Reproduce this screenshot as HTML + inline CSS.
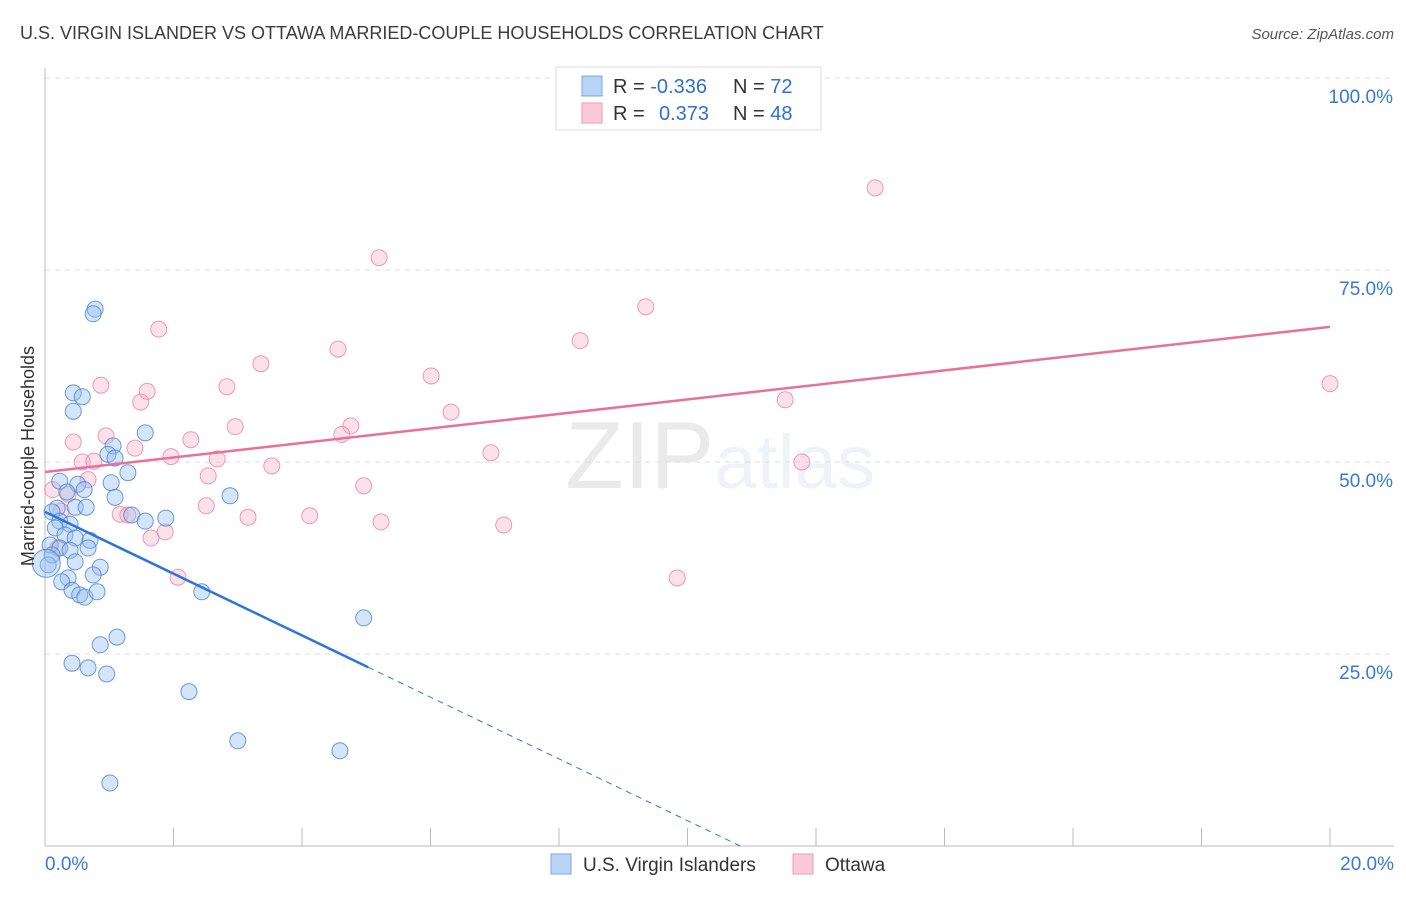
<!DOCTYPE html>
<html><head><meta charset="utf-8"><style>
body{margin:0;background:#fff;font-family:"Liberation Sans",sans-serif;}
svg text{font-family:"Liberation Sans",sans-serif;}
</style></head><body>
<svg id="chart" width="1406" height="892" xmlns="http://www.w3.org/2000/svg">
<text x="20" y="39" font-size="18" fill="#3c3c3c">U.S. VIRGIN ISLANDER VS OTTAWA MARRIED-COUPLE HOUSEHOLDS CORRELATION CHART</text>
<text x="1394" y="39" font-size="15" font-style="italic" fill="#555" text-anchor="end">Source: ZipAtlas.com</text>
<text x="720" y="488" font-size="96" text-anchor="middle" fill="#000" opacity="0.08" font-family="Liberation Serif,serif">ZIP<tspan fill="#3a78d8" opacity="1" font-family="Liberation Sans,sans-serif" font-size="76">atlas</tspan></text>
<g id="grid"></g>
<g id="axes"></g>
<g id="marks"></g>
<text transform="translate(34,456) rotate(-90)" font-size="18" fill="#333" text-anchor="middle">Married-couple Households</text>
<g>
<rect x="556" y="67" width="265" height="63" fill="#fff" stroke="#ddd"/>
<rect x="582" y="76" width="20" height="20" fill="#b9d3f5" stroke="#7aa7e6"/>
<rect x="582" y="103" width="20" height="20" fill="#fbc9d7" stroke="#ee9ab3"/>
<text x="613" y="93" font-size="20" fill="#333">R = <tspan fill="#2f6fd6">-0.336</tspan></text>
<text x="733" y="93" font-size="20" fill="#333">N = <tspan fill="#2f6fd6">72</tspan></text>
<text x="613" y="120" font-size="20" fill="#333">R = <tspan fill="#2f6fd6" x="659">0.373</tspan></text>
<text x="733" y="120" font-size="20" fill="#333">N = <tspan fill="#2f6fd6">48</tspan></text>
</g>
<g>
<rect x="551" y="854" width="20" height="20" fill="#b9d3f5" stroke="#7aa7e6"/>
<text x="583" y="871" font-size="19" fill="#333">U.S. Virgin Islanders</text>
<rect x="793" y="854" width="20" height="20" fill="#fbc9d7" stroke="#ee9ab3"/>
<text x="825" y="871" font-size="19" fill="#333">Ottawa</text>
</g>
</svg>
<script>
const blueX=[0.78,0.75,0.44,0.58,0.44,1.56,1.06,0.98,1.09,1.29,1.03,0.51,0.61,0.23,0.34,1.09,2.88,0.19,0.47,0.64,1.35,1.56,1.88,0.11,0.23,0.39,0.16,0.31,0.47,0.70,0.08,0.23,0.39,0.67,0.11,0.05,0.47,0.86,0.75,0.36,0.26,0.42,0.54,0.62,0.81,2.44,4.96,1.12,0.86,0.42,0.67,0.96,2.24,3.00,4.59,1.01,0.02];
const blueY=[69.9,69.3,59.0,58.5,56.6,53.8,52.1,51.0,50.5,48.6,47.3,47.1,46.4,47.5,46.1,45.4,45.6,44.0,44.1,44.1,43.1,42.3,42.7,43.5,42.3,41.9,41.4,40.5,40.1,39.8,39.2,38.8,38.5,38.8,37.9,36.6,37.0,36.3,35.3,34.9,34.4,33.3,32.7,32.4,33.1,33.1,29.7,27.2,26.2,23.8,23.2,22.4,20.1,13.7,12.4,8.2,36.8];
const pinkX=[12.92,5.20,9.35,1.77,4.56,8.33,3.36,6.01,20.0,0.87,2.83,1.59,1.49,11.52,6.32,2.96,4.76,4.62,0.95,0.44,2.27,1.40,6.94,1.96,2.68,0.58,0.76,11.78,3.53,2.54,0.67,4.96,0.12,0.36,2.51,1.17,1.29,3.16,4.12,5.23,7.14,0.25,1.87,1.65,2.07,9.84,0.20];
const pinkY=[85.7,76.6,70.2,67.3,64.7,65.8,62.8,61.2,60.2,60.0,59.8,59.2,57.8,58.1,56.5,54.6,54.7,53.6,53.4,52.6,52.9,51.8,51.2,50.7,50.4,50.0,50.1,50.0,49.5,48.2,47.7,46.9,46.4,45.8,44.3,43.2,43.1,42.8,43.0,42.2,41.8,43.6,40.9,40.1,35.0,34.9,38.8];
const blueTrend=[43.5,-4.02]; // intercept, slope
const pinkTrend=[48.7,0.945];
const yTicks=[25,50,75,100];
const yTickLabels=["25.0%","50.0%","75.0%","100.0%"];
const xTicks=[0,2,4,6,8,10,12,14,16,18,20];

const NS="http://www.w3.org/2000/svg";
const sx=v=>45+v/20*1285, sy=v=>846-v/100*768;
function mk(parent,tag,attrs){const e=document.createElementNS(NS,tag);for(const k in attrs)e.setAttribute(k,attrs[k]);document.getElementById(parent).appendChild(e);return e;}
yTicks.forEach((t,i)=>{
 const l=mk('grid','line',{x1:45,x2:1394,y1:sy(t),y2:sy(t),stroke:'#ddd','stroke-dasharray':'5,5'});
 
 
 const tx=mk('axes','text',{x:1393,y:sy(t)+25,'font-size':19,fill:'#3a78d8','text-anchor':'end'});
 tx.textContent=yTickLabels[i];
 
 
});
const ax=mk('axes','line',{x1:45,x2:45,y1:68,y2:846,stroke:'#bbb'});


const bx=mk('axes','line',{x1:45,x2:1394,y1:846,y2:846,stroke:'#bbb'});


xTicks.forEach(t=>{
 const l=mk('axes','line',{x1:sx(t),x2:sx(t),y1:828,y2:846,stroke:'#bbb'});
 
 
});
const x0=mk('axes','text',{x:45,y:870,'font-size':19,fill:'#3a78d8'});x0.textContent='0.0%';


const x1=mk('axes','text',{x:1394,y:870,'font-size':19,fill:'#3a78d8','text-anchor':'end'});x1.textContent='20.0%';



pinkX.forEach((x,i)=>{
 const c=mk('marks','circle',{cx:sx(x),cy:sy(pinkY[i]),r:8,fill:'rgba(246,170,195,0.35)',stroke:'rgba(232,130,165,0.8)','stroke-width':1});
 
 
});
blueX.forEach((x,i)=>{
 const c=mk('marks','circle',{cx:sx(x),cy:sy(blueY[i]),r:i===blueX.length-1?14:8,fill:'rgba(150,190,240,0.4)',stroke:'rgba(70,130,215,0.8)','stroke-width':1});
 
 
});
const bEnd=5.03, bZero=-blueTrend[0]/blueTrend[1];
const bl=mk('marks','line',{x1:sx(0),y1:sy(blueTrend[0]),x2:sx(bEnd),y2:sy(blueTrend[0]+blueTrend[1]*bEnd),stroke:'#2f74d8','stroke-width':2.5});


const bd=mk('marks','line',{x1:sx(bEnd),y1:sy(blueTrend[0]+blueTrend[1]*bEnd),x2:sx(bZero),y2:sy(0),stroke:'#2f74d8','stroke-width':1,'stroke-dasharray':'6,5'});


const pl=mk('marks','line',{x1:sx(0),y1:sy(pinkTrend[0]),x2:sx(20),y2:sy(pinkTrend[0]+pinkTrend[1]*20),stroke:'#e8709a','stroke-width':2.5});


</script>
</body></html>
